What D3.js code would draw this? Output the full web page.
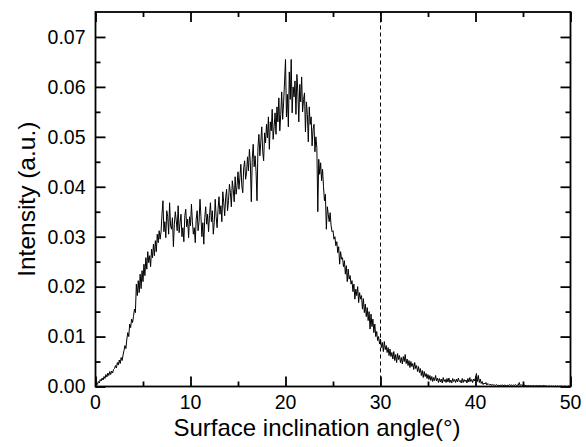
<!DOCTYPE html>
<html><head><meta charset="utf-8">
<script src="https://cdn.jsdelivr.net/npm/d3@7"></script>
<style>html,body{margin:0;padding:0;background:#fff;}svg{display:block;font-family:Arial,"Liberation Sans",sans-serif;}</style>
</head><body>
<svg id="c" width="586" height="447"></svg>
<script>
const angleStart = 0, angleStep = 0.1;
const intensity = [
0.0000,0.0006,0.0004,0.0010,0.0007,0.0014,0.0011,0.0017,0.0013,0.0020,
0.0016,0.0024,0.0019,0.0027,0.0022,0.0030,0.0024,0.0031,0.0027,0.0034,
0.0036,0.0042,0.0037,0.0048,0.0043,0.0053,0.0046,0.0058,0.0052,0.0063,
0.0072,0.0082,0.0076,0.0095,0.0108,0.0100,0.0125,0.0118,0.0135,0.0128,
0.0140,0.0155,0.0148,0.0205,0.0182,0.0212,0.0188,0.0225,0.0196,0.0232,
0.0210,0.0245,0.0222,0.0258,0.0235,0.0270,0.0248,0.0262,0.0240,0.0275,
0.0258,0.0285,0.0262,0.0292,0.0270,0.0305,0.0288,0.0312,0.0295,0.0310,
0.0345,0.0372,0.0310,0.0330,0.0298,0.0352,0.0340,0.0305,0.0368,0.0322,
0.0315,0.0338,0.0280,0.0325,0.0350,0.0332,0.0312,0.0362,0.0308,0.0328,
0.0345,0.0300,0.0318,0.0290,0.0342,0.0355,0.0320,0.0335,0.0298,0.0340,
0.0322,0.0365,0.0330,0.0305,0.0318,0.0288,0.0335,0.0352,0.0312,0.0330,
0.0375,0.0340,0.0300,0.0328,0.0285,0.0338,0.0360,0.0325,0.0345,0.0310,
0.0342,0.0368,0.0330,0.0352,0.0305,0.0328,0.0375,0.0340,0.0318,0.0355,
0.0380,0.0345,0.0362,0.0330,0.0390,0.0368,0.0342,0.0378,0.0395,0.0352,
0.0372,0.0405,0.0388,0.0360,0.0412,0.0395,0.0370,0.0420,0.0385,0.0402,
0.0430,0.0395,0.0418,0.0445,0.0402,0.0388,0.0438,0.0452,0.0415,0.0428,
0.0460,0.0432,0.0475,0.0448,0.0370,0.0455,0.0485,0.0440,0.0462,0.0430,
0.0372,0.0478,0.0505,0.0462,0.0490,0.0520,0.0470,0.0452,0.0508,0.0488,
0.0525,0.0498,0.0540,0.0475,0.0530,0.0512,0.0555,0.0495,0.0520,0.0548,
0.0505,0.0560,0.0530,0.0578,0.0512,0.0545,0.0590,0.0535,0.0568,0.0610,
0.0655,0.0540,0.0585,0.0520,0.0630,0.0575,0.0655,0.0548,0.0600,0.0580,
0.0612,0.0545,0.0625,0.0590,0.0530,0.0605,0.0570,0.0620,0.0550,0.0575,
0.0588,0.0510,0.0570,0.0545,0.0490,0.0560,0.0525,0.0540,0.0482,0.0515,
0.0525,0.0470,0.0500,0.0478,0.0350,0.0455,0.0425,0.0448,0.0412,0.0435,
0.0400,0.0372,0.0385,0.0315,0.0360,0.0345,0.0330,0.0348,0.0322,0.0310,
0.0312,0.0295,0.0300,0.0282,0.0290,0.0268,0.0280,0.0245,0.0270,0.0255,
0.0258,0.0240,0.0252,0.0225,0.0242,0.0210,0.0235,0.0215,0.0222,0.0205,
0.0212,0.0190,0.0205,0.0175,0.0195,0.0182,0.0200,0.0168,0.0188,0.0175,
0.0182,0.0155,0.0176,0.0148,0.0165,0.0140,0.0158,0.0132,0.0150,0.0115,
0.0145,0.0120,0.0135,0.0108,0.0125,0.0100,0.0110,0.0092,0.0100,0.0085,
0.0095,0.0078,0.0088,0.0070,0.0090,0.0074,0.0082,0.0068,0.0078,0.0062,
0.0075,0.0060,0.0068,0.0055,0.0070,0.0052,0.0064,0.0048,0.0066,0.0054,
0.0062,0.0048,0.0058,0.0045,0.0060,0.0050,0.0064,0.0046,0.0055,0.0042,
0.0052,0.0038,0.0050,0.0040,0.0046,0.0034,0.0048,0.0036,0.0042,0.0030,
0.0040,0.0028,0.0036,0.0022,0.0032,0.0018,0.0030,0.0020,0.0026,0.0016,
0.0024,0.0014,0.0022,0.0012,0.0020,0.0010,0.0018,0.0012,0.0022,0.0011,
0.0017,0.0008,0.0016,0.0009,0.0015,0.0007,0.0018,0.0010,0.0014,0.0008,
0.0016,0.0009,0.0017,0.0008,0.0013,0.0007,0.0016,0.0010,0.0014,0.0008,
0.0015,0.0009,0.0017,0.0010,0.0012,0.0007,0.0016,0.0008,0.0014,0.0010,
0.0013,0.0007,0.0016,0.0009,0.0018,0.0010,0.0014,0.0008,0.0015,0.0011,
0.0018,0.0026,0.0010,0.0022,0.0008,0.0015,0.0006,0.0010,0.0004,0.0007,
0.0005,0.0008,0.0003,0.0006,0.0004,0.0003,0.0005,0.0002,0.0004,0.0003,
0.0003,0.0002,0.0004,0.0002,0.0003,0.0001,0.0003,0.0002,0.0003,0.0002,
0.0002,0.0003,0.0002,0.0001,0.0003,0.0002,0.0004,0.0002,0.0003,0.0002,
0.0003,0.0002,0.0004,0.0002,0.0003,0.0002,0.0008,0.0002,0.0004,0.0002,
0.0003,0.0002,0.0003,0.0001,0.0002,0.0001,0.0002,0.0001,0.0002,0.0001,
0.0001,0.0002,0.0001,0.0001,0.0002,0.0001,0.0001,0.0002,0.0001,0.0001,
0.0001,0.0001,0.0002,0.0001,0.0001,0.0001,0.0000,0.0001,0.0001,0.0000,
0.0001,0.0000,0.0001,0.0000,0.0001,0.0000,0.0001,0.0000,0.0000,0.0001,
0.0000,0.0001,0.0000,0.0000,0.0001,0.0000,0.0000,0.0000,0.0001,0.0000,
0.0000
];
const xMajorTicks = [0, 10, 20, 30, 40, 50];
const xMinorTicks = [5, 15, 25, 35, 45];
const yMajorTicks = [0.00, 0.01, 0.02, 0.03, 0.04, 0.05, 0.06, 0.07];
const yMinorTicks = [0.005, 0.015, 0.025, 0.035, 0.045, 0.055, 0.065];
const yTickLabels = ["0.00","0.01","0.02","0.03","0.04","0.05","0.06","0.07"];
const markerAngle = [30];
const xTitle = "Surface inclination angle(°)";
const yTitle = "Intensity (a.u.)";

const L = 95.5, R = 570.5, T = 12, B = 386.5;
const x = d3.scaleLinear().domain([0, 50]).range([L, R]);
const y = d3.scaleLinear().domain([0, 0.075]).range([B, T]);
const svg = d3.select("#c");
const data = intensity.map((v, i) => ({a: angleStart + i * angleStep, v}));

// data line
svg.append("path").datum(data)
  .attr("fill", "none").attr("stroke", "#000").attr("stroke-width", 1)
  .attr("stroke-linejoin", "miter")
  .attr("d", d3.line().x(d => x(d.a)).y(d => y(d.v)));

// dashed marker
svg.selectAll(".mk").data(markerAngle).enter().append("line")
  .attr("x1", d => x(d)).attr("x2", d => x(d)).attr("y1", B).attr("y2", T)
  .attr("stroke", "#000").attr("stroke-width", 1).attr("stroke-dasharray", "4,3");

// axes with inner ticks on all four sides
const sw = 1.8;
svg.append("g").attr("transform", `translate(0,${B})`).call(d3.axisTop(x).tickValues(xMajorTicks).tickSize(10).tickFormat(""));
svg.append("g").attr("transform", `translate(0,${B})`).call(d3.axisTop(x).tickValues(xMinorTicks).tickSize(5).tickFormat(""));
svg.append("g").attr("transform", `translate(0,${T})`).call(d3.axisBottom(x).tickValues(xMajorTicks).tickSize(10).tickFormat(""));
svg.append("g").attr("transform", `translate(0,${T})`).call(d3.axisBottom(x).tickValues(xMinorTicks).tickSize(5).tickFormat(""));
svg.append("g").attr("transform", `translate(${L},0)`).call(d3.axisRight(y).tickValues(yMajorTicks).tickSize(10).tickFormat(""));
svg.append("g").attr("transform", `translate(${L},0)`).call(d3.axisRight(y).tickValues(yMinorTicks).tickSize(5).tickFormat(""));
svg.append("g").attr("transform", `translate(${R},0)`).call(d3.axisLeft(y).tickValues(yMajorTicks).tickSize(10).tickFormat(""));
svg.append("g").attr("transform", `translate(${R},0)`).call(d3.axisLeft(y).tickValues(yMinorTicks).tickSize(5).tickFormat(""));
svg.selectAll(".domain").remove();
svg.selectAll(".tick line").attr("stroke", "#000").attr("stroke-width", sw);

svg.append("rect").attr("x", L).attr("y", T).attr("width", R - L).attr("height", B - T)
  .attr("fill", "none").attr("stroke", "#000").attr("stroke-width", sw);

// tick labels
svg.selectAll(".xl").data(xMajorTicks).enter().append("text")
  .attr("x", d => x(d)).attr("y", B + 22.5).attr("text-anchor", "middle")
  .attr("font-size", 19.5).attr("fill", "#000").text(d => d);
svg.selectAll(".yl").data(yMajorTicks).enter().append("text")
  .attr("x", L - 10).attr("y", d => y(d)).attr("dy", "0.35em").attr("text-anchor", "end")
  .attr("font-size", 19.5).attr("fill", "#000").text((d, i) => yTickLabels[i]);

// titles
svg.append("text").attr("x", 317).attr("y", 435.5).attr("text-anchor", "middle")
  .attr("font-size", 24).attr("fill", "#000").text(xTitle);
svg.append("text").attr("transform", `translate(35,${(T + B) / 2}) rotate(-90)`)
  .attr("text-anchor", "middle").attr("font-size", 24.5).attr("fill", "#000").text(yTitle);
</script>
</body></html>
